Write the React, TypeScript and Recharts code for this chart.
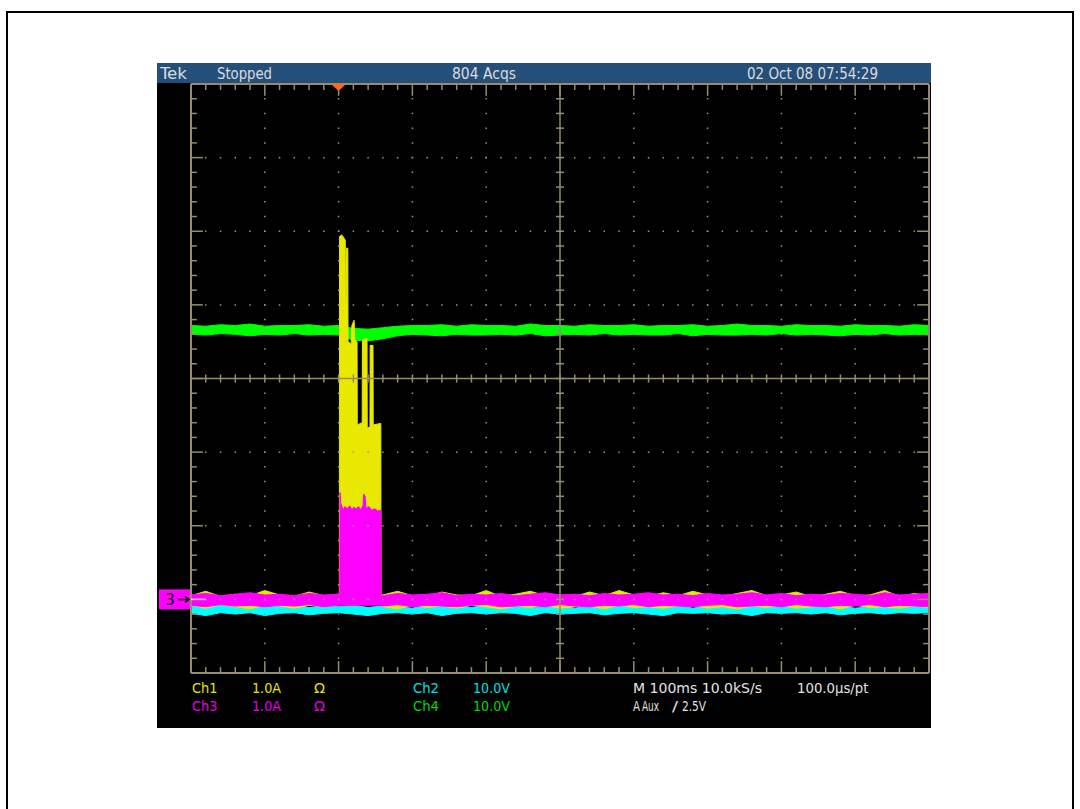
import React from "react";
import { ComposedChart, Area, XAxis, YAxis, ReferenceLine, ReferenceDot } from "recharts";

// Time in ms (100 ms/div), vertical values in graticule divisions from screen centre.
const headTimes = [0, 20, 40, 60, 80, 100, 120, 140, 160, 180, 200];
const tailTimes = [260, 280, 300, 320, 340, 360, 380, 400, 420, 440, 460, 480, 500, 520, 540, 560, 580, 600, 620, 640, 660, 680, 700, 720, 740, 760, 780, 800, 820, 840, 860, 880, 900, 920, 940, 960, 980, 1000];
const fullTimes = [0, 20, 40, 60, 80, 100, 120, 140, 160, 180, 200, 220, 240, 260, 280, 300, 320, 340, 360, 380, 400, 420, 440, 460, 480, 500, 520, 540, 560, 580, 600, 620, 640, 660, 680, 700, 720, 740, 760, 780, 800, 820, 840, 860, 880, 900, 920, 940, 960, 980, 1000];

// Ch4 (green)
const ch4Hi = [0.72, 0.71, 0.73, 0.72, 0.74, 0.71, 0.72, 0.72, 0.73, 0.71, 0.72, 0.68, 0.67, 0.69, 0.71, 0.72, 0.72, 0.73, 0.71, 0.73, 0.72, 0.72, 0.71, 0.74, 0.72, 0.72, 0.71, 0.73, 0.72, 0.72, 0.73, 0.71, 0.72, 0.72, 0.73, 0.71, 0.72, 0.74, 0.72, 0.72, 0.71, 0.73, 0.72, 0.72, 0.71, 0.73, 0.72, 0.72, 0.71, 0.73, 0.72];
const ch4Lo = [0.60, 0.59, 0.61, 0.60, 0.58, 0.60, 0.59, 0.61, 0.59, 0.60, 0.59, 0.52, 0.51, 0.54, 0.58, 0.60, 0.59, 0.58, 0.60, 0.59, 0.59, 0.60, 0.59, 0.61, 0.58, 0.59, 0.60, 0.59, 0.61, 0.59, 0.60, 0.59, 0.59, 0.61, 0.58, 0.60, 0.59, 0.59, 0.60, 0.59, 0.61, 0.59, 0.60, 0.59, 0.58, 0.60, 0.59, 0.61, 0.59, 0.60, 0.59];

// Ch2 (cyan)
const ch2Hi = [-3.09, -3.11, -3.08, -3.10, -3.12, -3.09, -3.10, -3.08, -3.11, -3.09, -3.10, -3.08, -3.11, -3.09, -3.10, -3.12, -3.08, -3.10, -3.09, -3.11, -3.08, -3.10, -3.09, -3.11, -3.10, -3.08, -3.12, -3.09, -3.10, -3.08, -3.11, -3.09, -3.10, -3.08, -3.12, -3.09, -3.10, -3.11, -3.08, -3.10, -3.09, -3.11, -3.08, -3.10, -3.09, -3.12, -3.10, -3.08, -3.11, -3.09, -3.10];
const ch2Lo = [-3.19, -3.22, -3.18, -3.20, -3.18, -3.22, -3.19, -3.18, -3.21, -3.19, -3.18, -3.20, -3.22, -3.19, -3.18, -3.20, -3.18, -3.22, -3.19, -3.18, -3.20, -3.18, -3.19, -3.22, -3.18, -3.20, -3.19, -3.18, -3.21, -3.19, -3.18, -3.20, -3.22, -3.18, -3.19, -3.18, -3.20, -3.19, -3.22, -3.18, -3.19, -3.18, -3.20, -3.18, -3.21, -3.19, -3.18, -3.20, -3.18, -3.19, -3.18];

// Ch3 (magenta)
const ch3BurstTimes = [201.6, 201.9, 203, 206, 209, 212, 215, 218, 221, 224, 227, 230, 233, 234, 236, 237, 241, 245, 249, 253, 257.3, 257.6];
const ch3HeadHi = [-2.94, -2.92, -2.95, -2.93, -2.91, -2.94, -2.93, -2.95, -2.92, -2.94, -2.93];
const ch3HeadLo = [-3.08, -3.10, -3.07, -3.09, -3.08, -3.10, -3.08, -3.09, -3.07, -3.10, -3.08];
const ch3BurstHi = [-2.93, -1.55, -1.70, -1.78, -1.74, -1.77, -1.73, -1.78, -1.75, -1.77, -1.74, -1.78, -1.73, -1.57, -1.60, -1.76, -1.74, -1.79, -1.77, -1.80, -1.79, -2.94];
const ch3BurstLo = [-3.08, -3.08, -3.08, -3.08, -3.08, -3.08, -3.08, -3.08, -3.08, -3.08, -3.08, -3.08, -3.08, -3.08, -3.08, -3.08, -3.08, -3.08, -3.08, -3.08, -3.08, -3.08];
const ch3TailHi = [-2.95, -2.92, -2.94, -2.93, -2.91, -2.95, -2.93, -2.94, -2.92, -2.95, -2.93, -2.91, -2.94, -2.93, -2.95, -2.92, -2.94, -2.93, -2.91, -2.94, -2.93, -2.95, -2.92, -2.94, -2.93, -2.91, -2.94, -2.92, -2.95, -2.93, -2.94, -2.92, -2.93, -2.95, -2.91, -2.94, -2.93, -2.92];
const ch3TailLo = [-3.09, -3.07, -3.10, -3.08, -3.09, -3.10, -3.08, -3.07, -3.10, -3.09, -3.08, -3.10, -3.07, -3.09, -3.10, -3.08, -3.09, -3.07, -3.10, -3.08, -3.09, -3.10, -3.08, -3.07, -3.10, -3.09, -3.08, -3.10, -3.07, -3.09, -3.10, -3.08, -3.09, -3.07, -3.10, -3.08, -3.09, -3.10];

// Ch1 (yellow)
const ch1BurstTimes = [201.0, 201.3, 204.5, 209.0, 209.3, 210.5, 210.8, 212.5, 212.8, 217.0, 218.0, 221.0, 222.0, 225.0, 225.3, 232.0, 232.3, 238.5, 238.8, 242.5, 242.8, 246.6, 246.9, 257.2, 257.5];
const ch1HeadHi = [-2.95, -2.89, -2.96, -2.93, -2.95, -2.88, -2.94, -2.96, -2.90, -2.95, -2.93];
const ch1HeadLo = [-3.08, -3.12, -3.07, -3.10, -3.13, -3.08, -3.09, -3.12, -3.08, -3.10, -3.08];
const ch1BurstHi = [-2.93, 1.93, 1.95, 1.88, 1.15, 1.10, 1.77, 1.77, 0.50, 0.47, 0.72, 0.79, 0.52, 0.50, -0.63, -0.60, 0.52, 0.55, -0.67, -0.66, 0.45, 0.45, -0.63, -0.61, -2.93];
const ch1BurstLo = [-3.06, -3.06, -3.06, -3.06, -3.06, -3.06, -3.06, -3.06, -3.06, -3.06, -3.06, -3.06, -3.06, -3.06, -3.06, -3.06, -3.06, -3.06, -3.06, -3.06, -3.06, -3.06, -3.06, -3.06, -3.06];
const ch1TailHi = [-2.94, -2.89, -2.95, -2.96, -2.90, -2.94, -2.95, -2.88, -2.96, -2.93, -2.89, -2.95, -2.94, -2.96, -2.90, -2.95, -2.88, -2.94, -2.96, -2.91, -2.95, -2.89, -2.94, -2.96, -2.92, -2.88, -2.95, -2.94, -2.90, -2.96, -2.93, -2.89, -2.95, -2.94, -2.88, -2.96, -2.92, -2.95];
const ch1TailLo = [-3.10, -3.13, -3.08, -3.11, -3.09, -3.12, -3.08, -3.10, -3.13, -3.09, -3.11, -3.08, -3.12, -3.10, -3.09, -3.13, -3.08, -3.11, -3.10, -3.12, -3.09, -3.08, -3.12, -3.10, -3.13, -3.09, -3.11, -3.08, -3.12, -3.10, -3.09, -3.13, -3.08, -3.11, -3.10, -3.12, -3.09, -3.11];

// Graticule positions
const minorX = fullTimes;
const minorY = [-4, -3.8, -3.6, -3.4, -3.2, -3, -2.8, -2.6, -2.4, -2.2, -2, -1.8, -1.6, -1.4, -1.2, -1, -0.8, -0.6, -0.4, -0.2, 0, 0.2, 0.4, 0.6, 0.8, 1, 1.2, 1.4, 1.6, 1.8, 2, 2.2, 2.4, 2.6, 2.8, 3, 3.2, 3.4, 3.6, 3.8, 4];
const majorX = [100, 200, 300, 400, 600, 700, 800, 900];
const majorY = [-3, -2, -1, 1, 2, 3];
const triggerTime = 200;
const ch3Ground = -3;

const band = (t: number[], lo: number[], hi: number[]) => t.map((x, i) => ({ t: x, r: [lo[i], hi[i]] }));
const ch4Data = band(fullTimes, ch4Lo, ch4Hi);
const ch2Data = band(fullTimes, ch2Lo, ch2Hi);
const ch3Data = band([...headTimes, ...ch3BurstTimes, ...tailTimes], [...ch3HeadLo, ...ch3BurstLo, ...ch3TailLo], [...ch3HeadHi, ...ch3BurstHi, ...ch3TailHi]);
const ch1Data = band([...headTimes, ...ch1BurstTimes, ...tailTimes], [...ch1HeadLo, ...ch1BurstLo, ...ch1TailLo], [...ch1HeadHi, ...ch1BurstHi, ...ch1TailHi]);

const GRAT = "#968c6e";
const DOT = "#9a9680";
const FONT = "'Liberation Sans Narrow', 'DejaVu Sans Condensed', 'Liberation Sans', sans-serif";
const isMajorX = (t: number) => t % 100 === 0;
const isMajorY = (v: number) => Math.abs(v - Math.round(v)) < 1e-6;

const TriggerMark = (p: any) => (
  <polygon points={`${p.cx - 7.5},${p.cy} ${p.cx + 7.5},${p.cy} ${p.cx},${p.cy + 7}`} fill="#ff6a1a" />
);

const GroundMark = (p: any) => (
  <g>
    <rect x={p.cx - 32} y={p.cy - 10} width={31} height={20} fill="#ff00ff" />
    <text x={p.cx - 21} y={p.cy + 6} fontSize={16} fill="#000" textAnchor="middle" fontFamily={FONT}>3</text>
    <path d={`M${p.cx - 13} ${p.cy} H${p.cx - 2} M${p.cx - 6} ${p.cy - 3} L${p.cx - 2} ${p.cy} L${p.cx - 6} ${p.cy + 3}`} stroke="#000" strokeWidth={1.5} fill="none" />
  </g>
);

const T = (props: any) => <text fontFamily={FONT} lengthAdjust="spacingAndGlyphs" {...props} />;

export default function App() {
  return (
    <div style={{ position: "absolute", left: 0, top: 0, width: 1080, height: 809, background: "#fff", overflow: "hidden" }}>
      <svg width={1080} height={809} style={{ position: "absolute", left: 0, top: 0 }}>
        <rect x={7} y={12} width={1066} height={820} fill="none" stroke="#000" strokeWidth={2} />
        <rect x={157} y={63} width={774} height={665} fill="#000" />
        <rect x={157} y={63} width={774} height={20} fill="#234f7a" />
        <T x={160} y={79} fontSize={16} fill="#dcdcdc" textLength={27}>Tek</T>
        <T x={217} y={79} fontSize={16} fill="#dcdcdc" textLength={55}>Stopped</T>
        <T x={452} y={79} fontSize={16} fill="#dcdcdc" textLength={64}>804 Acqs</T>
        <T x={747} y={79} fontSize={16} fill="#dcdcdc" textLength={131}>02 Oct 08 07:54:29</T>

        <T x={192} y={693} fontSize={14} fill="#e6e600" textLength={25.5}>Ch1</T>
        <T x={252} y={693} fontSize={14} fill="#e6e600" textLength={29}>1.0A</T>
        <T x={314} y={693} fontSize={14} fill="#e6e600" textLength={11}>Ω</T>
        <T x={413} y={693} fontSize={14} fill="#00e0e0" textLength={26}>Ch2</T>
        <T x={473} y={693} fontSize={14} fill="#00e0e0" textLength={37}>10.0V</T>
        <T x={633} y={693} fontSize={14} fill="#e4e4e4" textLength={129}>M 100ms 10.0kS/s</T>
        <T x={797} y={693} fontSize={14} fill="#e4e4e4" textLength={71.5}>100.0µs/pt</T>

        <T x={192} y={711} fontSize={14} fill="#e600e6" textLength={25.5}>Ch3</T>
        <T x={252} y={711} fontSize={14} fill="#e600e6" textLength={29}>1.0A</T>
        <T x={314} y={711} fontSize={14} fill="#e600e6" textLength={11}>Ω</T>
        <T x={413} y={711} fontSize={14} fill="#00d800" textLength={26}>Ch4</T>
        <T x={473} y={711} fontSize={14} fill="#00d800" textLength={37}>10.0V</T>
        <T x={633} y={711} fontSize={14} fill="#e4e4e4" textLength={7}>A</T>
        <T x={642} y={711} fontSize={14} fill="#e4e4e4" textLength={17}>Aux</T>
        <T x={672} y={711} fontSize={14} fill="#e4e4e4" textLength={6}>/</T>
        <T x={682} y={711} fontSize={14} fill="#e4e4e4" textLength={24}>2.5V</T>
      </svg>
      <div style={{ position: "absolute", left: 0, top: 0 }}>
        <ComposedChart width={1080} height={809} margin={{ top: 84, left: 191, right: 151, bottom: 136 }}>
          <XAxis type="number" dataKey="t" domain={[0, 1000]} hide allowDataOverflow />
          <YAxis type="number" domain={[-4, 4]} hide allowDataOverflow />

          <Area data={ch2Data} dataKey="r" type="linear" stroke="#00ffff" fill="#00ffff" fillOpacity={1} strokeWidth={1} dot={false} activeDot={false} isAnimationActive={false} />
          <Area data={ch4Data} dataKey="r" type="linear" stroke="#00ff00" fill="#00ff00" fillOpacity={1} strokeWidth={1} dot={false} activeDot={false} isAnimationActive={false} />
          <Area data={ch1Data} dataKey="r" type="linear" stroke="#e8e800" fill="#e8e800" fillOpacity={1} strokeWidth={1} dot={false} activeDot={false} isAnimationActive={false} />
          <Area data={ch3Data} dataKey="r" type="linear" stroke="#ff00ff" fill="#ff00ff" fillOpacity={1} strokeWidth={1} dot={false} activeDot={false} isAnimationActive={false} />

          {majorX.map((t) => (
            <ReferenceLine key={`vx${t}`} x={t} stroke={DOT} strokeWidth={1.5} strokeDasharray="1.5 13.225" strokeDashoffset={0.75} />
          ))}
          {majorY.map((v) => (
            <ReferenceLine key={`hy${v}`} y={v} stroke={DOT} strokeWidth={1.5} strokeDasharray="1.5 13.26" strokeDashoffset={0.75} />
          ))}
          <ReferenceLine x={500} stroke={GRAT} strokeWidth={1.5} />
          <ReferenceLine y={0} stroke={GRAT} strokeWidth={1.5} />
          <ReferenceLine x={0} stroke={GRAT} strokeWidth={2} />
          <ReferenceLine x={1000} stroke={GRAT} strokeWidth={2} />
          <ReferenceLine y={4} stroke={GRAT} strokeWidth={2} />
          <ReferenceLine y={-4} stroke={GRAT} strokeWidth={2} />

          {minorX.map((t) => (
            <ReferenceLine key={`cx${t}`} segment={[{ x: t, y: -0.055 }, { x: t, y: 0.055 }]} stroke={GRAT} strokeWidth={1.5} />
          ))}
          {minorY.map((v) => (
            <ReferenceLine key={`cy${v}`} segment={[{ x: 494.5, y: v }, { x: 505.5, y: v }]} stroke={GRAT} strokeWidth={1.5} />
          ))}
          {minorX.map((t) => (
            <ReferenceLine key={`tx${t}`} segment={[{ x: t, y: 4 }, { x: t, y: isMajorX(t) ? 3.84 : 3.92 }]} stroke={GRAT} strokeWidth={1.5} />
          ))}
          {minorX.map((t) => (
            <ReferenceLine key={`bx${t}`} segment={[{ x: t, y: -4 }, { x: t, y: isMajorX(t) ? -3.84 : -3.92 }]} stroke={GRAT} strokeWidth={1.5} />
          ))}
          {minorY.map((v) => (
            <ReferenceLine key={`ly${v}`} segment={[{ x: 0, y: v }, { x: isMajorY(v) ? 16 : 8, y: v }]} stroke={GRAT} strokeWidth={1.5} />
          ))}
          {minorY.map((v) => (
            <ReferenceLine key={`ry${v}`} segment={[{ x: 1000, y: v }, { x: isMajorY(v) ? 984 : 992, y: v }]} stroke={GRAT} strokeWidth={1.5} />
          ))}

          <ReferenceLine segment={[{ x: 0, y: ch3Ground }, { x: 20, y: ch3Ground }]} stroke="#ffc0ff" strokeWidth={1.5} />
          <ReferenceDot x={0} y={ch3Ground} r={0} shape={GroundMark} />
          <ReferenceDot x={triggerTime} y={4} r={0} shape={TriggerMark} />
        </ComposedChart>
      </div>
    </div>
  );
}
